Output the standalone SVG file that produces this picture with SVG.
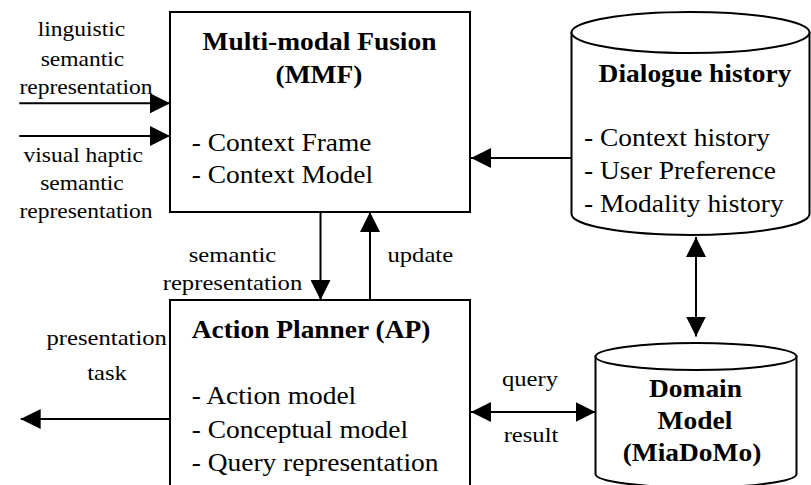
<svg xmlns="http://www.w3.org/2000/svg" width="811" height="485" viewBox="0 0 811 485" font-family="Liberation Serif, Times New Roman, Tinos, Nimbus Roman, FreeSerif, DejaVu Serif, serif">
<style>
.t{font-size:24.5px}
.b{font-size:24.5px;font-weight:bold}
.m{text-anchor:middle}
.s{font-size:21px}
.l{font-size:22px}
.box{fill:#fff;stroke:#000;stroke-width:2}
.cyl{fill:#fff;stroke:#000;stroke-width:2}
.c{fill:none;stroke:#000;stroke-width:2}
</style>
<defs>
<marker id="ah" viewBox="0 0 20 20" refX="20" refY="10" markerWidth="20" markerHeight="20" markerUnits="userSpaceOnUse" orient="auto-start-reverse">
<path d="M0,0 L20,10 L0,20 Z" fill="#000"/>
</marker>
</defs>
<rect width="811" height="485" fill="#fff"/>

<g id="mmf">
<rect class="box" x="170" y="12" width="300" height="200"/>
<text class="b m" transform="scale(1.12 1)" x="285.27" y="50">Multi-modal Fusion</text>
<text class="b m" transform="scale(1.12 1)" x="284.82" y="83.5">(MMF)</text>
<text class="t" transform="scale(1.12 1)" x="171.16" y="150.7">- Context Frame</text>
<text class="t" transform="scale(1.12 1)" x="171.16" y="183.3">- Context Model</text>
</g>

<g id="ap">
<rect class="box" x="170" y="300" width="300" height="200"/>
<text class="b" transform="scale(1.12 1)" x="171.16" y="338.3">Action Planner (AP)</text>
<text class="t" transform="scale(1.12 1)" x="171.16" y="404.3">- Action model</text>
<text class="t" transform="scale(1.12 1)" x="171.16" y="437.7">- Conceptual model</text>
<text class="t" transform="scale(1.12 1)" x="171.16" y="471">- Query representation</text>
</g>

<g id="dialogue">
<path class="cyl" d="M571.5,32.5 V214 A119,21 0 0 0 809.5,214 V32.5 Z"/>
<ellipse class="cyl" cx="690.5" cy="32.5" rx="119" ry="20.5"/>
<text class="b m" transform="scale(1.12 1)" x="620.54" y="81.7">Dialogue history</text>
<text class="t" transform="scale(1.12 1)" x="521.43" y="146.3">- Context history</text>
<text class="t" transform="scale(1.12 1)" x="521.43" y="179">- User Preference</text>
<text class="t" transform="scale(1.12 1)" x="521.43" y="211.7">- Modality history</text>
</g>

<g id="domain">
<path class="cyl" d="M595.5,356.5 V474 A100.5,13.5 0 0 0 796.5,474 V356.5 Z"/>
<ellipse class="cyl" cx="696" cy="356.5" rx="100.5" ry="13.5"/>
<text class="b m" transform="scale(1.12 1)" x="621" y="397.3">Domain</text>
<text class="b m" transform="scale(1.12 1)" x="620.5" y="429.5">Model</text>
<text class="b m" transform="scale(1.12 1)" x="617.86" y="461">(MiaDoMo)</text>
</g>

<g id="connectors">
<path class="c" d="M19.3,103.3 H170" marker-end="url(#ah)"/>
<path class="c" d="M19.3,136 H170" marker-end="url(#ah)"/>
<path class="c" d="M320.5,212 V300" marker-end="url(#ah)"/>
<path class="c" d="M370,300 V212" marker-end="url(#ah)"/>
<path class="c" d="M571.5,158 H471" marker-end="url(#ah)"/>
<path class="c" d="M696,237 V336.5" marker-start="url(#ah)" marker-end="url(#ah)"/>
<path class="c" d="M471,412 H595.5" marker-start="url(#ah)" marker-end="url(#ah)"/>
<path class="c" d="M170,419 H20.7" marker-end="url(#ah)"/>
</g>

<g id="labels">
<text class="s m" transform="scale(1.12 1)" x="72.77" y="36">linguistic</text>
<text class="s m" transform="scale(1.12 1)" x="73.66" y="66">semantic</text>
<text class="s m" transform="scale(1.12 1)" x="76.79" y="94.3">representation</text>
<text class="s m" transform="scale(1.12 1)" x="74.38" y="161.7">visual haptic</text>
<text class="s m" transform="scale(1.12 1)" x="73.21" y="190">semantic</text>
<text class="s m" transform="scale(1.12 1)" x="76.79" y="218.3">representation</text>
<text class="l m" transform="scale(1.12 1)" x="207.59" y="261.7">semantic</text>
<text class="l m" transform="scale(1.12 1)" x="207.59" y="290">representation</text>
<text class="l m" transform="scale(1.12 1)" x="375.27" y="261.7">update</text>
<text class="l m" transform="scale(1.12 1)" x="95.27" y="345">presentation</text>
<text class="l m" transform="scale(1.12 1)" x="95.54" y="380">task</text>
<text class="l m" transform="scale(1.12 1)" x="473.21" y="386.5">query</text>
<text class="l m" transform="scale(1.12 1)" x="474.11" y="441.7">result</text>
</g>
</svg>
